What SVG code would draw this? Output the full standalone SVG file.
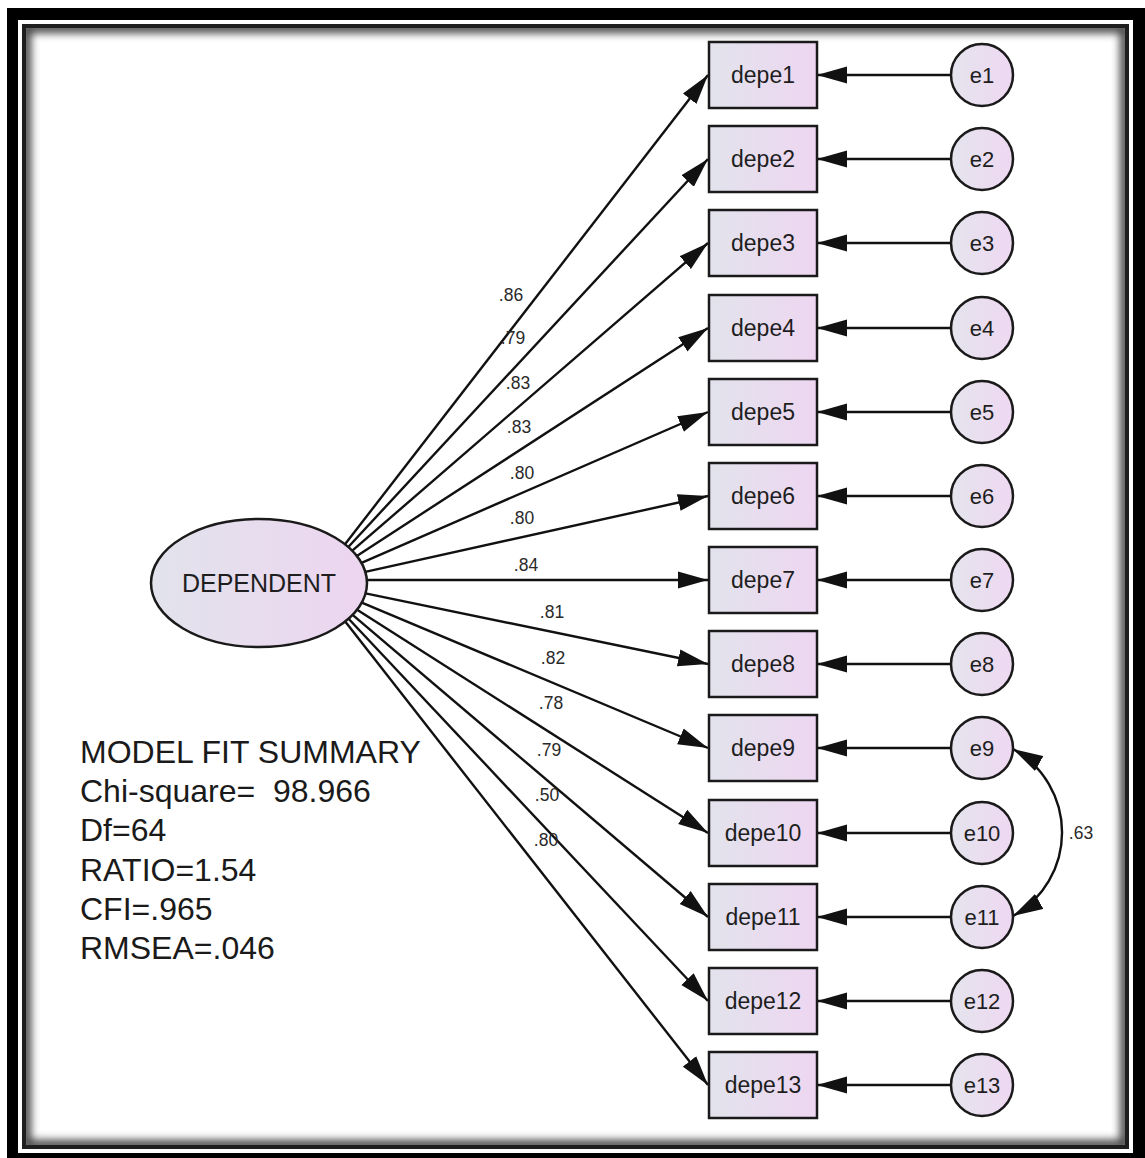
<svg xmlns="http://www.w3.org/2000/svg" width="1145" height="1158" viewBox="0 0 1145 1158">
<defs>
<style>
.box{fill:url(#gBox);stroke:#1a1a1a;stroke-width:2.5}
.err{fill:url(#gCirc);stroke:#1a1a1a;stroke-width:2.5}
.lat{fill:url(#gEll);stroke:#1a1a1a;stroke-width:2.5}
text{font-family:"Liberation Sans",Arial,sans-serif;fill:#1e1e1e}
.lbl{font-size:23px;text-anchor:middle}
.elbl{font-size:22px;text-anchor:middle}
.coef{font-size:17.5px;fill:#2a2a2a;text-anchor:middle}
.fit{font-size:32px;fill:#1a1a1a;white-space:pre}
.path{stroke:#111;stroke-width:2.4;fill:none;marker-end:url(#arr)}
.cov{stroke:#111;stroke-width:2.4;fill:none;marker-end:url(#arr);marker-start:url(#arrs)}
</style>
<linearGradient id="gBox" x1="0" y1="0" x2="1" y2="0"><stop offset="0" stop-color="#e2e3ec"/><stop offset="1" stop-color="#eed6f1"/></linearGradient>
<linearGradient id="gCirc" x1="0" y1="0" x2="1" y2="0"><stop offset="0" stop-color="#e4e4ed"/><stop offset="1" stop-color="#efd8f2"/></linearGradient>
<linearGradient id="gEll" x1="0" y1="0" x2="1" y2="0"><stop offset="0" stop-color="#e2e3ec"/><stop offset="1" stop-color="#edd5f0"/></linearGradient>
<marker id="arr" markerUnits="userSpaceOnUse" markerWidth="32" markerHeight="18" refX="30" refY="9" orient="auto"><path d="M0,0.5 L30,9 L0,17.5 z" fill="#111"/></marker>
<marker id="arrs" markerUnits="userSpaceOnUse" markerWidth="32" markerHeight="18" refX="30" refY="9" orient="auto-start-reverse"><path d="M0,0.5 L30,9 L0,17.5 z" fill="#111"/></marker>
<clipPath id="inner"><rect x="26" y="28" width="1099" height="1117"/></clipPath>
<filter id="blur" x="-5%" y="-5%" width="110%" height="110%"><feGaussianBlur stdDeviation="4"/></filter>
</defs>

<g id="frame">
<rect x="7" y="8" width="1138" height="1150" fill="#000"/>
<rect x="18" y="20" width="1115" height="1133" fill="#fff"/>
<rect x="22" y="24" width="1107" height="1125" fill="#1e1e1e"/>
<rect x="26" y="28" width="1099" height="1117" fill="#fff"/>
<g clip-path="url(#inner)"><rect x="26" y="28" width="1099" height="1117" fill="none" stroke="#000" stroke-width="10" filter="url(#blur)" opacity="0.75"/></g>
</g>

<g id="connectors">
<path class="path" d="M345,544.3 L708,75"/>
<path class="path" d="M348.3,547 L708,159"/>
<path class="path" d="M352.3,550.7 L708,243"/>
<path class="path" d="M356.8,555.9 L708,328"/>
<path class="path" d="M361.5,562.8 L708,412"/>
<path class="path" d="M365.3,571.9 L708,496"/>
<path class="path" d="M367,580 L708,580"/>
<path class="path" d="M365.5,593.4 L708,664"/>
<path class="path" d="M361.8,602.6 L708,748"/>
<path class="path" d="M357.1,609.8 L708,833"/>
<path class="path" d="M352.6,614.9 L708,917"/>
<path class="path" d="M348.6,618.7 L708,1001"/>
<path class="path" d="M345.2,621.6 L708,1085"/>
<path class="path" d="M951,75 L817,75"/>
<path class="path" d="M951,159 L817,159"/>
<path class="path" d="M951,243 L817,243"/>
<path class="path" d="M951,328 L817,328"/>
<path class="path" d="M951,412 L817,412"/>
<path class="path" d="M951,496 L817,496"/>
<path class="path" d="M951,580 L817,580"/>
<path class="path" d="M951,664 L817,664"/>
<path class="path" d="M951,748 L817,748"/>
<path class="path" d="M951,833 L817,833"/>
<path class="path" d="M951,917 L817,917"/>
<path class="path" d="M951,1001 L817,1001"/>
<path class="path" d="M951,1085 L817,1085"/>
<path class="cov" d="M1013,749 A95.6,95.6 0 0 1 1013,916"/>
<g id="coefs">
<text class="coef" x="511" y="301">.86</text>
<text class="coef" x="513" y="344">.79</text>
<text class="coef" x="518" y="389">.83</text>
<text class="coef" x="519" y="433">.83</text>
<text class="coef" x="522" y="479">.80</text>
<text class="coef" x="522" y="524">.80</text>
<text class="coef" x="526" y="571">.84</text>
<text class="coef" x="552" y="618">.81</text>
<text class="coef" x="553" y="664">.82</text>
<text class="coef" x="551" y="709">.78</text>
<text class="coef" x="549" y="756">.79</text>
<text class="coef" x="547" y="801">.50</text>
<text class="coef" x="546" y="846">.80</text>
<text class="coef" x="1081" y="839">.63</text>
</g>
</g>

<g id="DEPENDENT"><ellipse class="lat" cx="259" cy="583" rx="108" ry="64"/><text x="259" y="592" style="font-size:25px;text-anchor:middle">DEPENDENT</text></g>

<g id="depe1"><rect class="box" x="709" y="42" width="108" height="66"/><text class="lbl" x="763" y="83">depe1</text></g>
<g id="depe2"><rect class="box" x="709" y="126" width="108" height="66"/><text class="lbl" x="763" y="167">depe2</text></g>
<g id="depe3"><rect class="box" x="709" y="210" width="108" height="66"/><text class="lbl" x="763" y="251">depe3</text></g>
<g id="depe4"><rect class="box" x="709" y="295" width="108" height="66"/><text class="lbl" x="763" y="336">depe4</text></g>
<g id="depe5"><rect class="box" x="709" y="379" width="108" height="66"/><text class="lbl" x="763" y="420">depe5</text></g>
<g id="depe6"><rect class="box" x="709" y="463" width="108" height="66"/><text class="lbl" x="763" y="504">depe6</text></g>
<g id="depe7"><rect class="box" x="709" y="547" width="108" height="66"/><text class="lbl" x="763" y="588">depe7</text></g>
<g id="depe8"><rect class="box" x="709" y="631" width="108" height="66"/><text class="lbl" x="763" y="672">depe8</text></g>
<g id="depe9"><rect class="box" x="709" y="715" width="108" height="66"/><text class="lbl" x="763" y="756">depe9</text></g>
<g id="depe10"><rect class="box" x="709" y="800" width="108" height="66"/><text class="lbl" x="763" y="841">depe10</text></g>
<g id="depe11"><rect class="box" x="709" y="884" width="108" height="66"/><text class="lbl" x="763" y="925">depe11</text></g>
<g id="depe12"><rect class="box" x="709" y="968" width="108" height="66"/><text class="lbl" x="763" y="1009">depe12</text></g>
<g id="depe13"><rect class="box" x="709" y="1052" width="108" height="66"/><text class="lbl" x="763" y="1093">depe13</text></g>

<g id="e1"><circle class="err" cx="982" cy="75" r="31"/><text class="elbl" x="982" y="83">e1</text></g>
<g id="e2"><circle class="err" cx="982" cy="159" r="31"/><text class="elbl" x="982" y="167">e2</text></g>
<g id="e3"><circle class="err" cx="982" cy="243" r="31"/><text class="elbl" x="982" y="251">e3</text></g>
<g id="e4"><circle class="err" cx="982" cy="328" r="31"/><text class="elbl" x="982" y="336">e4</text></g>
<g id="e5"><circle class="err" cx="982" cy="412" r="31"/><text class="elbl" x="982" y="420">e5</text></g>
<g id="e6"><circle class="err" cx="982" cy="496" r="31"/><text class="elbl" x="982" y="504">e6</text></g>
<g id="e7"><circle class="err" cx="982" cy="580" r="31"/><text class="elbl" x="982" y="588">e7</text></g>
<g id="e8"><circle class="err" cx="982" cy="664" r="31"/><text class="elbl" x="982" y="672">e8</text></g>
<g id="e9"><circle class="err" cx="982" cy="748" r="31"/><text class="elbl" x="982" y="756">e9</text></g>
<g id="e10"><circle class="err" cx="982" cy="833" r="31"/><text class="elbl" x="982" y="841">e10</text></g>
<g id="e11"><circle class="err" cx="982" cy="917" r="31"/><text class="elbl" x="982" y="925">e11</text></g>
<g id="e12"><circle class="err" cx="982" cy="1001" r="31"/><text class="elbl" x="982" y="1009">e12</text></g>
<g id="e13"><circle class="err" cx="982" cy="1085" r="31"/><text class="elbl" x="982" y="1093">e13</text></g>

<g id="fit">
<text class="fit" x="80" y="763">MODEL FIT SUMMARY</text>
<text class="fit" x="80" y="802" xml:space="preserve">Chi-square=  98.966</text>
<text class="fit" x="80" y="841">Df=64</text>
<text class="fit" x="80" y="881">RATIO=1.54</text>
<text class="fit" x="80" y="920">CFI=.965</text>
<text class="fit" x="80" y="959">RMSEA=.046</text>
</g>
</svg>
